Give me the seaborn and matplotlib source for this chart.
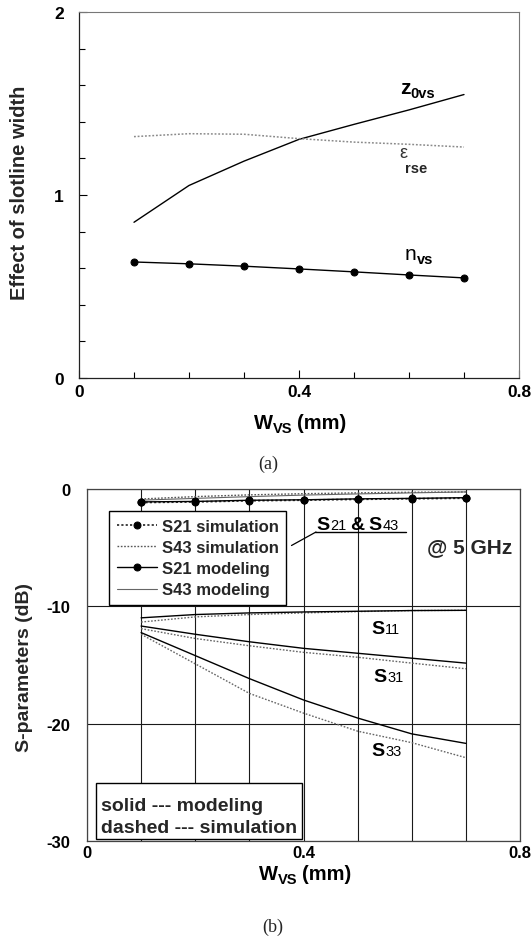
import numpy as np
import pandas as pd
import matplotlib
matplotlib.use("Agg")
import matplotlib.pyplot as plt
import seaborn as sns
from matplotlib.patches import Rectangle
from matplotlib.lines import Line2D
from matplotlib.ticker import MultipleLocator, FixedLocator

# ---------------- data ----------------
w_vs = [0.1, 0.2, 0.3, 0.4, 0.5, 0.6, 0.7]

# panel (a)
z0vs = [0.851, 1.052, 1.185, 1.304, 1.386, 1.465, 1.549]
eps_rse = [1.319, 1.335, 1.332, 1.308, 1.289, 1.277, 1.262]
n_vs = [0.634, 0.624, 0.611, 0.596, 0.580, 0.563, 0.547]

# panel (b)  (dB)
s21_sim = [-1.15, -1.10, -1.00, -0.95, -0.88, -0.83, -0.78]
s43_sim = [-0.85, -0.65, -0.50, -0.40, -0.33, -0.28, -0.25]
s21_mod = [-1.10, -1.06, -0.96, -0.92, -0.84, -0.80, -0.74]
s43_mod = [-0.95, -0.80, -0.65, -0.52, -0.42, -0.33, -0.25]
s11_mod = [-10.98, -10.70, -10.56, -10.48, -10.42, -10.36, -10.34]
s11_sim = [-11.34, -10.90, -10.70, -10.56, -10.45, -10.36, -10.34]
s31_mod = [-11.68, -12.38, -13.02, -13.58, -14.00, -14.42, -14.84]
s31_sim = [-11.90, -12.74, -13.36, -13.92, -14.34, -14.84, -15.32]
s33_mod = [-12.24, -14.20, -16.16, -17.98, -19.52, -20.87, -21.68]
s33_sim = [-12.38, -14.90, -17.42, -19.10, -20.64, -21.62, -22.90]

legend_labels = ["S21 simulation", "S43 simulation", "S21 modeling", "S43 modeling"]
xticks_a = [0, 0.4, 0.8]
xtick_labels = ["0", "0.4", "0.8"]
yticks_a = [0, 1, 2]
ytick_labels_a = ["0", "1", "2"]
yticks_b = [0, -10, -20, -30]
ytick_labels_b = ["0", "-10", "-20", "-30"]

# ---------------- style ----------------
sns.set_theme(style="white")
plt.rcParams["font.family"] = ["Liberation Sans", "DejaVu Sans"]
plt.rcParams["axes.unicode_minus"] = False

W, H = 532, 937
fig = plt.figure(figsize=(W / 100, H / 100), dpi=100)
fig.patch.set_facecolor("white")
renderer = fig.canvas.get_renderer()


def fx(px):
    return px / W


def fy(py):
    return 1 - py / H


def axes_rect(l, r, t, b):
    return [fx(l), fy(b), (r - l) / W, (b - t) / H]


def rich(x, y, pieces, ha="left"):
    """pieces: (text, size, weight, dy_px, gap_px); y is baseline in px from top"""
    texts = []
    cx = x
    for s, size, weight, dy, gap in pieces:
        t = fig.text(fx(cx), fy(y + dy), s, fontsize=size, fontweight=weight,
                     ha="left", va="baseline", color="black", zorder=8)
        cx += t.get_window_extent(renderer).width + gap
        texts.append(t)
    if ha == "center":
        shift = (cx - x) / 2
        for t in texts:
            px, py = t.get_position()
            t.set_position((px - shift / W, py))
    return texts


# ---------------- panel (a) ----------------
ax1 = fig.add_axes(axes_rect(79, 519, 13, 379))
df_a = pd.DataFrame({"w": w_vs, "z0vs": z0vs, "eps": eps_rse, "n": n_vs})
sns.lineplot(data=df_a, x="w", y="z0vs", ax=ax1, color="black", lw=1.0)
sns.lineplot(data=df_a, x="w", y="eps", ax=ax1, color="#8a8a8a", lw=1.1,
             linestyle=(0, (1.2, 1.2)))
sns.lineplot(data=df_a, x="w", y="n", ax=ax1, color="black", lw=1.0,
             marker="o", markersize=5, markeredgecolor="black")
ax1.set_xlim(0, 0.8)
ax1.set_ylim(0, 2)
ax1.set_xlabel("")
ax1.set_ylabel("")
ax1.xaxis.set_major_locator(FixedLocator(xticks_a))
ax1.set_xticklabels(xtick_labels)
ax1.xaxis.set_minor_locator(MultipleLocator(0.1))
ax1.yaxis.set_major_locator(FixedLocator(yticks_a))
ax1.set_yticklabels(ytick_labels_a)
ax1.yaxis.set_minor_locator(MultipleLocator(0.2))
ax1.tick_params(axis="both", which="both", direction="in", left=True, bottom=True,
                top=False, right=False, colors="black")
ax1.tick_params(axis="both", which="major", length=6, width=0.8, labelsize=12.5)
ax1.tick_params(axis="both", which="minor", length=4, width=0.8)
ax1.tick_params(axis="x", which="major", pad=4)
ax1.tick_params(axis="y", which="major", pad=11)
for lab in ax1.get_xticklabels() + ax1.get_yticklabels():
    lab.set_fontweight("bold")
for side in ["left", "bottom"]:
    ax1.spines[side].set_color("#222222")
    ax1.spines[side].set_linewidth(0.9)
for side in ["top", "right"]:
    ax1.spines[side].set_color("#777777")
    ax1.spines[side].set_linewidth(0.8)

fig.text(fx(20), fy(193), "Effect of slotline width", rotation=90, ha="center",
         va="center", fontsize=14.5, fontweight="bold")
rich(400, 93.5, [("z", 15, "bold", 0, 0), ("0vs", 10.5, "bold", 4, 0)])
fig.text(fx(399), fy(158.5), "ε", fontsize=13, color="#333333", ha="left", va="baseline")
fig.text(fx(405), fy(173), "rse", fontsize=10.5, fontweight="bold", ha="left", va="baseline")
rich(405, 260.5, [("n", 15, "normal", 0, 0), ("vs", 10.5, "bold", 4, 0)])
rich(300, 429.5, [("W", 14.5, "bold", 0, 0), ("VS", 10.5, "bold", 3.5, 5), ("(mm)", 14.5, "bold", 0, 0)],
     ha="center")
fig.text(fx(268), fy(464), "(a)", fontsize=13, family="Liberation Serif",
         ha="center", va="center")

# ---------------- panel (b) ----------------
ax2 = fig.add_axes(axes_rect(87, 520, 490, 842))
df_b = pd.DataFrame({"w": w_vs, "s21_sim": s21_sim, "s43_sim": s43_sim,
                     "s21_mod": s21_mod, "s43_mod": s43_mod,
                     "s11_mod": s11_mod, "s11_sim": s11_sim,
                     "s31_mod": s31_mod, "s31_sim": s31_sim,
                     "s33_mod": s33_mod, "s33_sim": s33_sim})
dash = (0, (1.2, 1.2))
sns.lineplot(data=df_b, x="w", y="s43_sim", ax=ax2, color="#555555", lw=1.0, linestyle=dash)
h_s43_sim = ax2.lines[-1]
sns.lineplot(data=df_b, x="w", y="s43_mod", ax=ax2, color="#666666", lw=0.8)
h_s43_mod = ax2.lines[-1]
sns.lineplot(data=df_b, x="w", y="s21_sim", ax=ax2, color="#333333", lw=1.3, linestyle=dash,
             marker="o", markersize=5, markeredgecolor="black", markerfacecolor="black")
h_s21_sim = ax2.lines[-1]
sns.lineplot(data=df_b, x="w", y="s21_mod", ax=ax2, color="black", lw=1.0,
             marker="o", markersize=5, markeredgecolor="black", markerfacecolor="black")
h_s21_mod = ax2.lines[-1]
for col in ["s11_sim", "s31_sim", "s33_sim"]:
    sns.lineplot(data=df_b, x="w", y=col, ax=ax2, color="#666666", lw=1.0, linestyle=dash)
for col in ["s11_mod", "s31_mod", "s33_mod"]:
    sns.lineplot(data=df_b, x="w", y=col, ax=ax2, color="black", lw=1.0)

ax2.set_xlim(0, 0.8)
ax2.set_ylim(-30, 0)
ax2.set_xlabel("")
ax2.set_ylabel("")
ax2.xaxis.set_major_locator(FixedLocator(xticks_a))
ax2.set_xticklabels(xtick_labels)
ax2.xaxis.set_minor_locator(MultipleLocator(0.1))
ax2.yaxis.set_major_locator(FixedLocator(yticks_b))
ax2.set_yticklabels(ytick_labels_b)
ax2.tick_params(axis="both", which="both", length=0, labelsize=12, colors="black")
ax2.tick_params(axis="x", which="major", pad=3)
ax2.tick_params(axis="y", which="major", pad=12)
for lab in ax2.get_xticklabels() + ax2.get_yticklabels():
    lab.set_fontweight("bold")
ax2.grid(True, which="both", color="#1a1a1a", lw=0.8)
ax2.set_axisbelow(True)
for side in ax2.spines:
    ax2.spines[side].set_color("#444444")
    ax2.spines[side].set_linewidth(0.9)

leg = ax2.legend([h_s21_sim, h_s43_sim, h_s21_mod, h_s43_mod], legend_labels,
                 loc="upper left", bbox_to_anchor=((109 - 87) / 433, (842 - 512) / 352),
                 borderaxespad=0, frameon=True, fancybox=False, framealpha=1,
                 edgecolor="black", prop={"size": 12, "weight": "bold"},
                 handlelength=2.4, handletextpad=0.3, labelspacing=0.38,
                 borderpad=0.45, numpoints=1)
leg.get_frame().set_linewidth(1.0)
leg.set_zorder(6)

fig.text(fx(25), fy(667), "S-parameters (dB)", rotation=90, ha="center",
         va="center", fontsize=14, fontweight="bold")
rich(316, 530, [("S", 14, "bold", 0, 1), ("21", 10.5, "normal", 0, 4), ("&", 14, "bold", 0, 4),
                ("S", 14, "bold", 0, 1), ("43", 10.5, "normal", 0, 0)])
fig.add_artist(Line2D([fx(315), fx(406)], [fy(533), fy(533)], color="black", lw=1.0, zorder=8))
fig.add_artist(Line2D([fx(291.5), fx(316)], [fy(546.5), fy(533)], color="black", lw=0.9, zorder=8))
fig.text(fx(427), fy(553.5), "@ 5 GHz", fontsize=15, fontweight="bold",
         ha="left", va="baseline", zorder=8)
for name, x0, yb in [("11", 371, 633.5), ("31", 373, 681.5), ("33", 371, 756.5)]:
    rich(x0, yb, [("S", 14, "bold", 0, 1), (name, 10.5, "normal", 0, 0)])

fig.add_artist(Rectangle((fx(96), fy(840)), 206 / W, 56 / H, transform=fig.transFigure,
                         facecolor="white", edgecolor="black", lw=1.0, zorder=6))
fig.text(fx(101), fy(811), "solid --- modeling", fontsize=14, fontweight="bold",
         ha="left", va="baseline", zorder=7)
fig.text(fx(101), fy(833), "dashed --- simulation", fontsize=14, fontweight="bold",
         ha="left", va="baseline", zorder=7)

rich(305, 880.5, [("W", 14.5, "bold", 0, 0), ("VS", 10.5, "bold", 3.5, 5), ("(mm)", 14.5, "bold", 0, 0)],
     ha="center")
fig.text(fx(273), fy(927), "(b)", fontsize=13, family="Liberation Serif",
         ha="center", va="center")

fig.savefig("out.png", dpi=100, facecolor="white")
